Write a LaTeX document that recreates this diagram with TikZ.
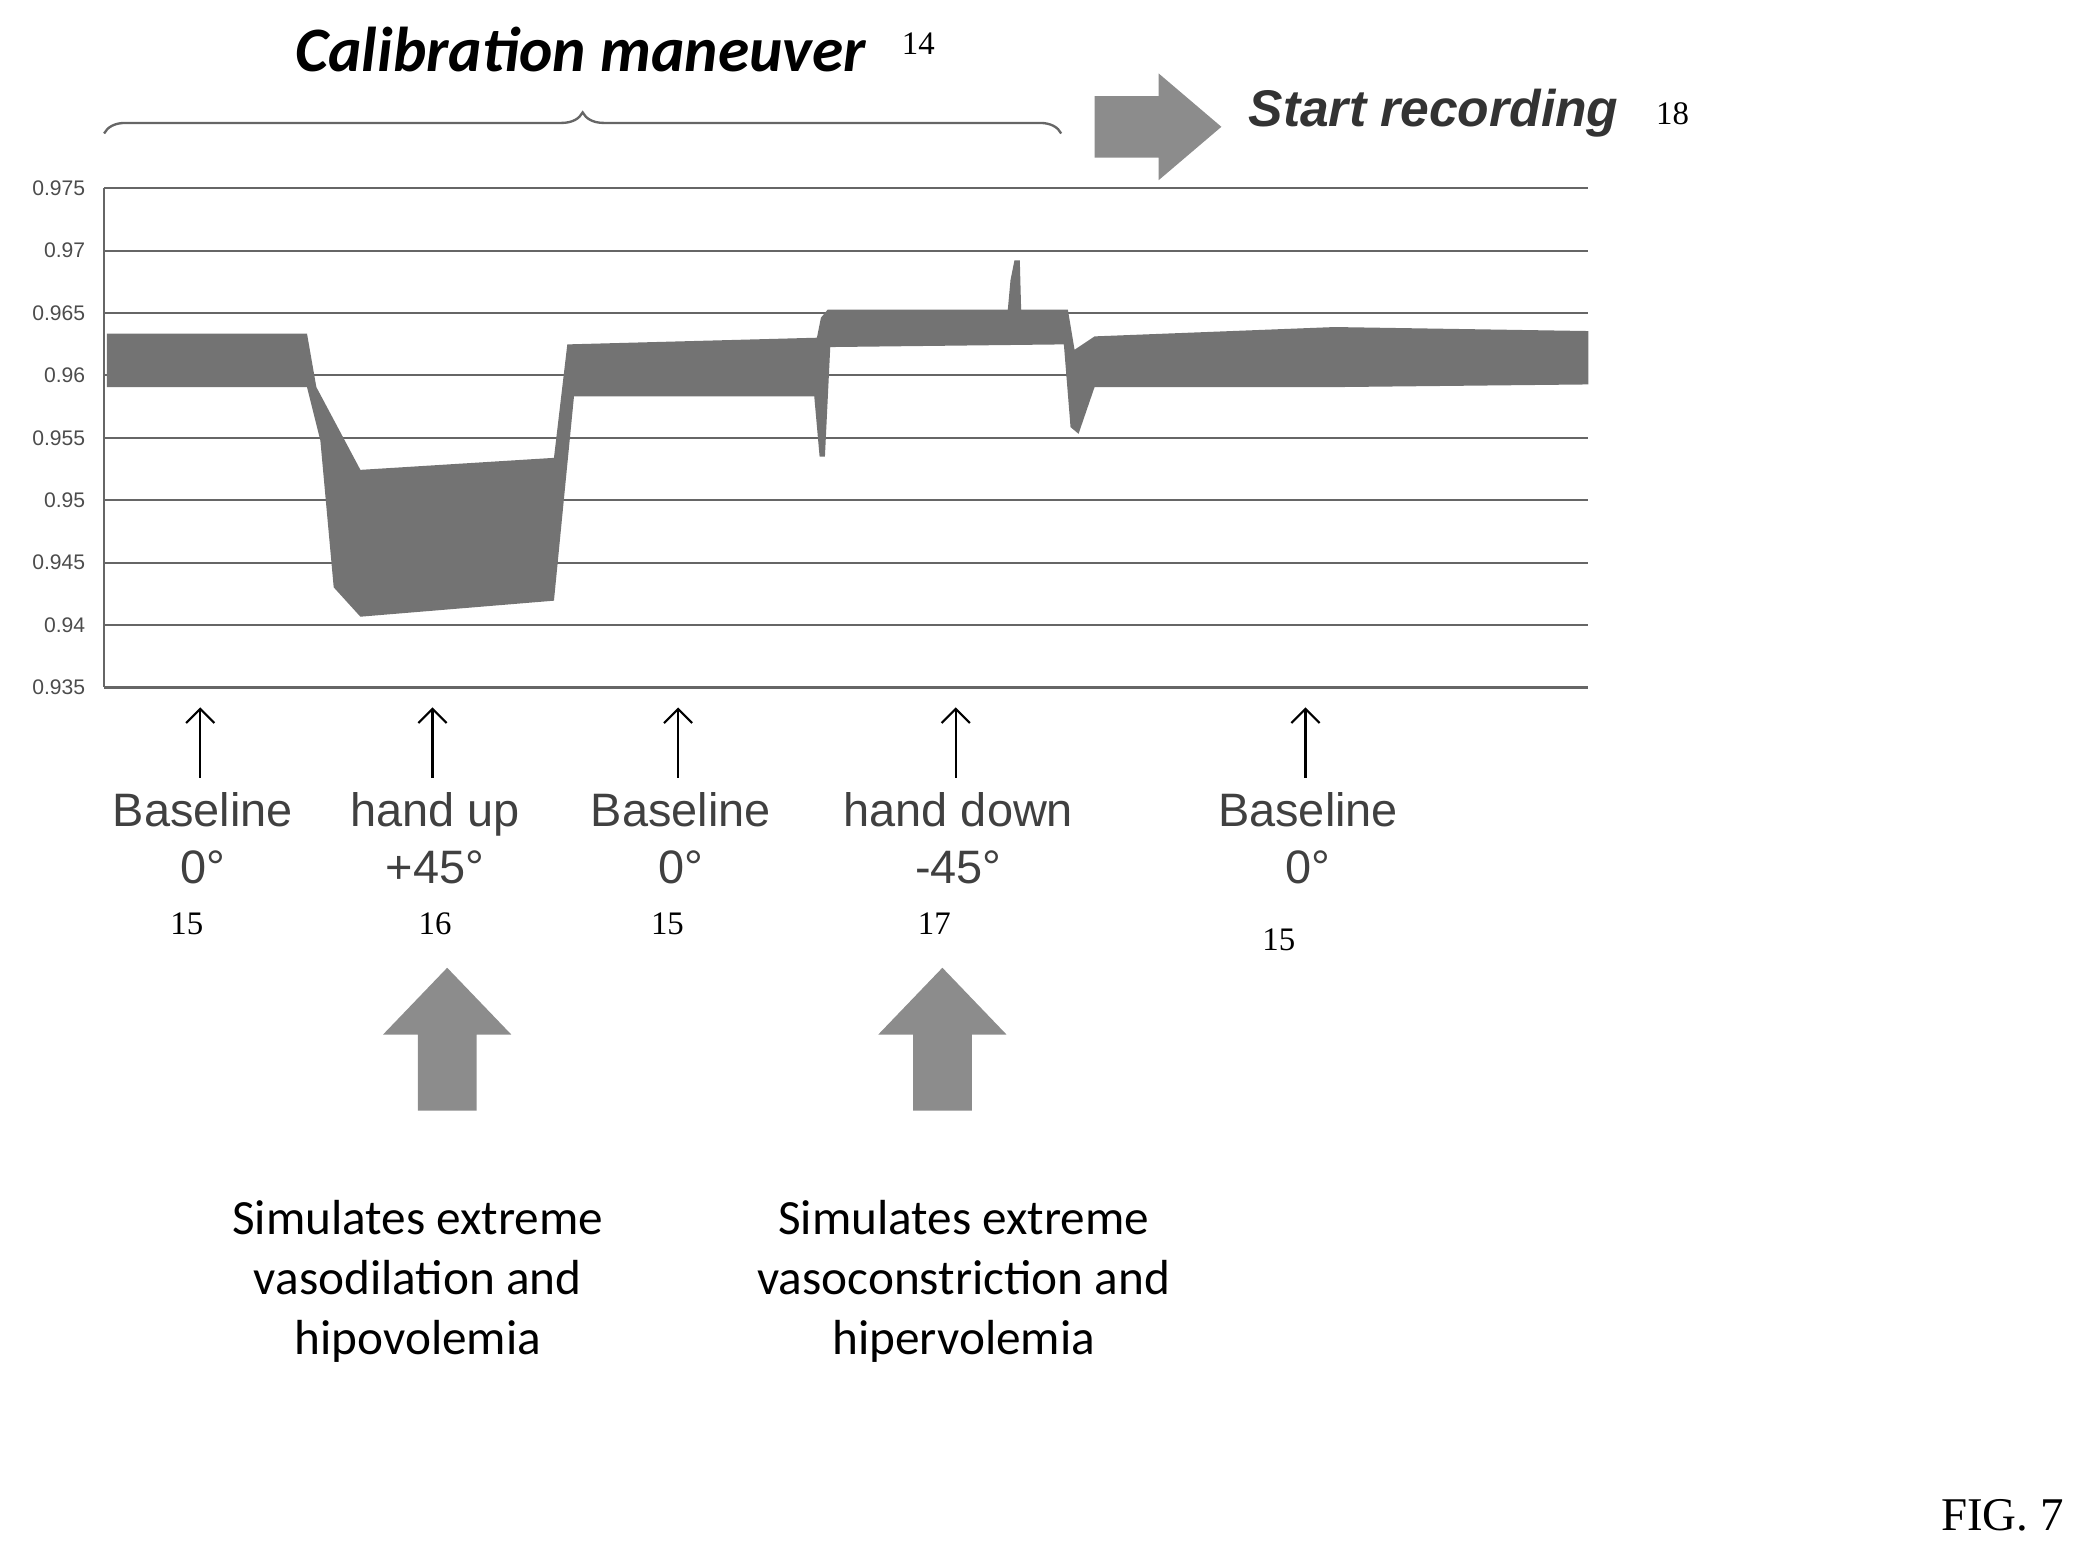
\documentclass[tikz,border=0pt]{standalone}
\usepackage{fontspec}
\setmainfont{Liberation Serif}
\newfontfamily\calfont{Carlito}
\newfontfamily\arl{Liberation Sans}
\usetikzlibrary{positioning,arrows.meta,decorations.pathreplacing}

\begin{document}
\begin{tikzpicture}[x=0.02cm, y=-0.02cm,
        grid/.style={draw=black!60, line width=0.9pt},
        tick/.style={anchor=east, font=\arl\fontsize{9}{10}\selectfont, text=black!70},
        phase/.style={font=\arl\fontsize{20}{24}\selectfont, text=black!75, align=center},
        refnum/.style={font=\fontsize{14}{16}\selectfont},
        note/.style={font=\calfont\fontsize{21}{25.5}\selectfont, align=center},
        title/.style={font=\calfont\bfseries\itshape\fontsize{27}{31}\selectfont},
        block/.style={fill=black!45}
    ]
    \useasboundingbox (0,0) rectangle (1568,1163);

    % grid and axis
    \foreach \lab [count=\i from 0] in {0.975,0.97,0.965,0.96,0.955,0.95,0.945,0.94,0.935} {
        \draw[grid] (78,141+\i*46.75) -- (1190,141+\i*46.75);
        \node[tick] (t\i) at (70,141+\i*46.75) {\lab};
    }
    \draw[grid] (78,141) -- (78,515);

    % signal
    \fill[black!55] (80,250) -- (230,250) -- (237,290) -- (270,352) -- (415,343) -- (425,258)
        -- (612,253) -- (615,238) -- (620,232) -- (755,232) -- (757,210) -- (760,195) -- (764,195)
        -- (765,232) -- (800,232) -- (805,262) -- (820,252) -- (1000,245) -- (1190,248)
        -- (1190,288) -- (1000,290) -- (820,290) -- (808,325) -- (802,320) -- (797,258)
        -- (622,260) -- (618,342) -- (614,342) -- (610,297) -- (430,297) -- (415,450)
        -- (270,462) -- (250,440) -- (240,330) -- (230,290) -- (80,290) -- cycle;

    % header
    \draw[black!60, line width=1pt, decorate, decoration={brace, amplitude=9pt}]
        (78,100) -- (795,100);
    \node[title] (cal) at (435,37) {Calibration maneuver};
    \node[refnum] (n14) at (688,33) {14};
    \fill[block] (820,72) -- (868,72) -- (868,55) -- (915,95) -- (868,135) -- (868,118) -- (820,118) -- cycle;
    \node[title, font=\arl\bfseries\itshape\fontsize{22}{26}\selectfont, text=black!80] (start) at (1074,85) {Start recording};
    \node[refnum] (n18) at (1253,85) {18};

    % phases
    \foreach \x/\nx/\ny/\a/\b/\n/\name in {
        152/140/692/Baseline/0\textdegree/15/p1,
        326/326/692/hand up/+45\textdegree/16/p2,
        510/500/692/Baseline/0\textdegree/15/p3,
        718/700/692/hand down/-45\textdegree/17/p4,
        980/958/704/Baseline/0\textdegree/15/p5} {
        \node[phase] (\name) at (\x,628) {\a\\\b};
        \node[refnum] (\name n) at (\nx,\ny) {\n};
        \coordinate (\name a) at (\x-2,530);
        \draw[-{Straight Barb[length=6pt]}, line width=0.9pt] (\name.north -| \name a) ++(0,-5) -- (\name a);
    }

    % block arrows
    \foreach \x in {335,706}
        \fill[block] (\x-22,832) -- (\x-22,775) -- (\x-48,775) -- (\x,725) -- (\x+48,775) -- (\x+22,775) -- (\x+22,832) -- cycle;
    \node[note] (s1) at (313,960) {Simulates extreme\\vasodilation and\\hipovolemia};
    \node[note] (s2) at (722,960) {Simulates extreme\\vasoconstriction and\\hipervolemia};

    \node[font=\fontsize{20}{24}\selectfont] (fig) at (1500,1135) {FIG. 7};
\end{tikzpicture}
\end{document}
